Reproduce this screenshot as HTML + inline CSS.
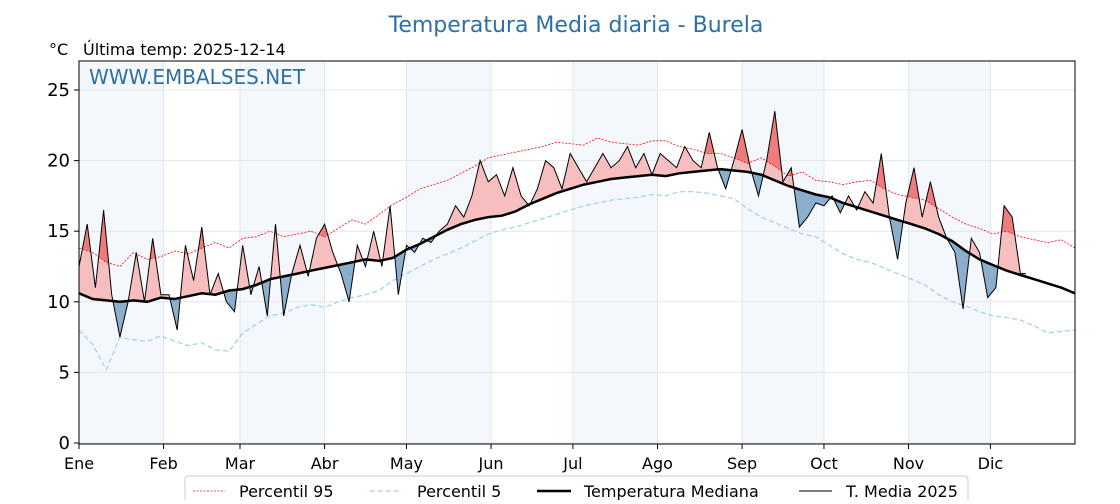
<!DOCTYPE html>
<html><head><meta charset="utf-8"><style>
body{margin:0;background:#fff;width:1120px;height:500px;overflow:hidden;font-family:"DejaVu Sans","Liberation Sans",sans-serif}
</style></head><body>
<svg id="chart" width="1120" height="500" xmlns="http://www.w3.org/2000/svg" font-family="DejaVu Sans, Liberation Sans, sans-serif">
<defs>
<clipPath id="plotclip"><rect x="79" y="61" width="996" height="383"/></clipPath>
<clipPath id="aboveMed"><polygon id="aboveMedPoly"/></clipPath>
<clipPath id="belowMed"><polygon id="belowMedPoly"/></clipPath>
<clipPath id="aboveP95"><polygon id="aboveP95Poly"/></clipPath>
</defs>
<g id="bands"></g>
<g id="grid"></g>
<g id="marks" clip-path="url(#plotclip)"></g>
<rect x="79" y="61" width="996" height="383" fill="none" stroke="#000" stroke-width="1"/>
<g id="axes"></g>
<text x="576" y="32" text-anchor="middle" font-size="22" fill="#2e6fa6">Temperatura Media diaria - Burela</text>
<text x="49" y="55" font-size="16" fill="#000">°C</text>
<text x="83" y="55" font-size="16" fill="#000">Última temp: 2025-12-14</text>
<text x="89" y="84" font-size="20" fill="#2e6fa6">WWW.EMBALSES.NET</text>
<g>
<rect x="185" y="476" width="783" height="30" rx="3" fill="#fff" stroke="#ccc"/>
<line x1="193" y1="491" x2="225" y2="491" stroke="red" stroke-width="0.8" stroke-dasharray="2,1.5"/>
<text x="239" y="497" font-size="16">Percentil 95</text>
<line x1="370" y1="491" x2="402" y2="491" stroke="#9cd0e4" stroke-width="1.2" stroke-dasharray="5,3"/>
<text x="417" y="497" font-size="16">Percentil 5</text>
<line x1="537" y1="491" x2="571" y2="491" stroke="#000" stroke-width="2.5"/>
<text x="584" y="497" font-size="16">Temperatura Mediana</text>
<line x1="799" y1="491" x2="832" y2="491" stroke="#000" stroke-width="1"/>
<text x="846" y="497" font-size="16">T. Media 2025</text>
</g>
</svg>
<script>
const months = ["Ene","Feb","Mar","Abr","May","Jun","Jul","Ago","Sep","Oct","Nov","Dic"];
const monthStartDays = [0,31,59,90,120,151,181,212,243,273,304,334];
const yTicks = [0,5,10,15,20,25];
// every 5 days, day 0..365
const medianStep = 5;
const medianVals = [10.6,10.2,10.1,10.0,10.1,10.0,10.3,10.2,10.4,10.6,10.5,10.8,10.9,11.2,11.6,11.8,12.0,12.2,12.4,12.6,12.8,13.0,12.9,13.1,13.7,14.1,14.6,15.1,15.5,15.8,16.0,16.1,16.4,16.9,17.3,17.7,18.0,18.3,18.5,18.7,18.8,18.9,19.0,18.9,19.1,19.2,19.3,19.4,19.3,19.2,19.0,18.6,18.2,17.9,17.6,17.4,17.0,16.7,16.4,16.1,15.8,15.5,15.2,14.8,14.3,13.6,13.0,12.6,12.2,11.9,11.6,11.3,11.0,10.6];
const p95Vals = [13.8,13.5,12.8,12.5,13.5,13.0,13.2,13.6,13.4,13.8,14.2,13.8,14.5,14.6,15.0,14.6,14.8,15.0,14.6,15.2,15.8,15.5,16.2,16.9,17.4,18.0,18.3,18.6,19.1,19.6,20.2,20.4,20.6,20.8,21.0,21.3,21.2,21.1,21.6,21.3,21.2,21.1,21.4,21.4,21.0,20.8,20.5,20.5,20.2,19.8,20.2,19.6,18.9,19.2,18.6,18.5,18.3,18.5,18.6,18.0,17.6,17.4,17.2,16.6,16.0,15.5,15.2,14.8,15.0,14.6,14.4,14.2,14.4,13.8];
const p5Vals = [8.0,7.0,5.2,7.5,7.3,7.2,7.6,7.2,6.9,7.1,6.6,6.5,7.8,8.4,9.0,9.2,9.6,9.8,9.6,10.0,10.3,10.5,10.8,11.5,12.0,12.5,13.0,13.4,13.8,14.3,14.8,15.1,15.3,15.6,15.9,16.2,16.5,16.8,17.0,17.2,17.3,17.4,17.6,17.5,17.8,17.8,17.7,17.5,17.3,16.6,16.0,15.6,15.2,14.8,14.6,14.0,13.4,13.0,12.8,12.4,12.0,11.6,11.2,10.5,10.0,9.7,9.3,9.0,8.9,8.7,8.3,7.8,7.9,8.0];
// every 3 days, day 0..345, then day 347
const s2025Step = 3;
const s2025Vals = [12.5,15.5,11,16.5,10.5,7.5,10,13.5,10,14.5,10.5,
 10.5,8,14,11.5,15.3,10.5,12,10,9.3,14,
 10.5,12.5,9,15.5,9,12,14,11.8,14.5,15.5,
 13.5,12,10,14,12.5,15,12.5,16.8,10.5,14,
 13.5,14.5,14.2,15,15.5,16.8,16,17.5,20,18.5,
 19,17.5,19.5,17.5,16.8,18,20,19.5,18,20.5,
 19.5,18.5,19.5,20.5,19.5,20,21,19.5,20.5,19,
 20.5,20,19.5,21,20,19.5,22,19.5,18,20,
 22.2,19.5,17.5,20,23.5,18.5,19.5,15.3,16,17,
 16.8,17.5,16.3,17.5,16.5,17.8,17,20.5,16,13,17,19.5,16,18.5,16,14.5,13.5,9.5,14.5,13.5,10.3,11,16.8,16,12];
const s2025LastDay = 347;
const s2025LastVal = 12;

const X0=79,X1=1075,Y0=443,PXD=14.12;
const xs=d=>X0+d*(X1-X0)/365;
const ys=v=>Y0-v*PXD;
const NS='http://www.w3.org/2000/svg';
function mk(tag,attrs,parent){const e=document.createElementNS(NS,tag);for(const k in attrs)e.setAttribute(k,attrs[k]);parent.appendChild(e);return e;}
function pts(vals,step){return vals.map((v,i)=>[Math.min(365,i*step),v]);}
const medPts=pts(medianVals,medianStep);
const p95Pts=pts(p95Vals,medianStep);
const p5Pts=pts(p5Vals,medianStep);
const sPts=pts(s2025Vals,s2025Step);sPts.push([s2025LastDay,s2025LastVal]);
const toStr=a=>a.map(p=>xs(p[0]).toFixed(1)+','+ys(p[1]).toFixed(1)).join(' ');

const bands=document.getElementById('bands'),grid=document.getElementById('grid'),marks=document.getElementById('marks'),axes=document.getElementById('axes');
monthStartDays.forEach((d,i)=>{
  const end=i<11?monthStartDays[i+1]:365;
  if(i%2===0){const r=mk('rect',{x:xs(d),y:61,width:xs(end)-xs(d),height:383,fill:'#f4f8fc'},bands);
  
  }
  const l=mk('line',{x1:xs(d),x2:xs(d),y1:61,y2:444,stroke:'#dfe5ea','stroke-width':1},grid);
  
  
  const t=mk('line',{x1:xs(d),x2:xs(d),y1:444,y2:449,stroke:'#000'},axes);
  
  
  const tx=mk('text',{x:xs(d),y:469,'font-size':16,'text-anchor':'middle'},axes);tx.textContent=months[i];
  
  
});
yTicks.forEach(v=>{
  const l=mk('line',{x1:79,x2:1075,y1:ys(v),y2:ys(v),stroke:'#e6e6e6'},grid);
  
  
  const t=mk('line',{x1:74,x2:79,y1:ys(v),y2:ys(v),stroke:'#000'},axes);
  
  
  const tx=mk('text',{x:70,y:ys(v)+6,'font-size':18,'text-anchor':'end'},axes);tx.textContent=v;
  
  
});
document.getElementById('aboveMedPoly').setAttribute('points',toStr(medPts)+' '+xs(365)+',0 '+xs(0)+',0');
document.getElementById('belowMedPoly').setAttribute('points',toStr(medPts)+' '+xs(365)+',500 '+xs(0)+',500');
document.getElementById('aboveP95Poly').setAttribute('points',toStr(p95Pts)+' '+xs(365)+',0 '+xs(0)+',0');
const medUpTo=medPts.filter(p=>p[0]<=s2025LastDay);
const medAtEnd=(()=>{const i=Math.floor(s2025LastDay/medianStep);const f=(s2025LastDay-i*medianStep)/medianStep;return medianVals[i]+(medianVals[i+1]-medianVals[i])*f;})();
medUpTo.push([s2025LastDay,medAtEnd]);
const fillPoly=toStr(sPts)+' '+toStr(medUpTo.slice().reverse());
const fa=mk('polygon',{points:fillPoly,fill:'#f6bebe','clip-path':'url(#aboveMed)'},marks);


const fb=mk('polygon',{points:fillPoly,fill:'#8aaecb','clip-path':'url(#belowMed)'},marks);


const fc=mk('polygon',{points:toStr(sPts)+' '+xs(s2025LastDay)+',500 '+xs(0)+',500',fill:'#ee7c7c','clip-path':'url(#aboveP95)'},marks);


const lp95=mk('polyline',{points:toStr(p95Pts),fill:'none',stroke:'red','stroke-width':0.8,'stroke-dasharray':'2,1.5'},marks);


const lp5=mk('polyline',{points:toStr(p5Pts),fill:'none',stroke:'#9cd0e4','stroke-width':1.2,'stroke-dasharray':'5,3'},marks);


const lm=mk('polyline',{points:toStr(medPts),fill:'none',stroke:'#000','stroke-width':2.5},marks);


const ls=mk('polyline',{points:toStr(sPts),fill:'none',stroke:'#000','stroke-width':1},marks);


</script>
</body></html>
